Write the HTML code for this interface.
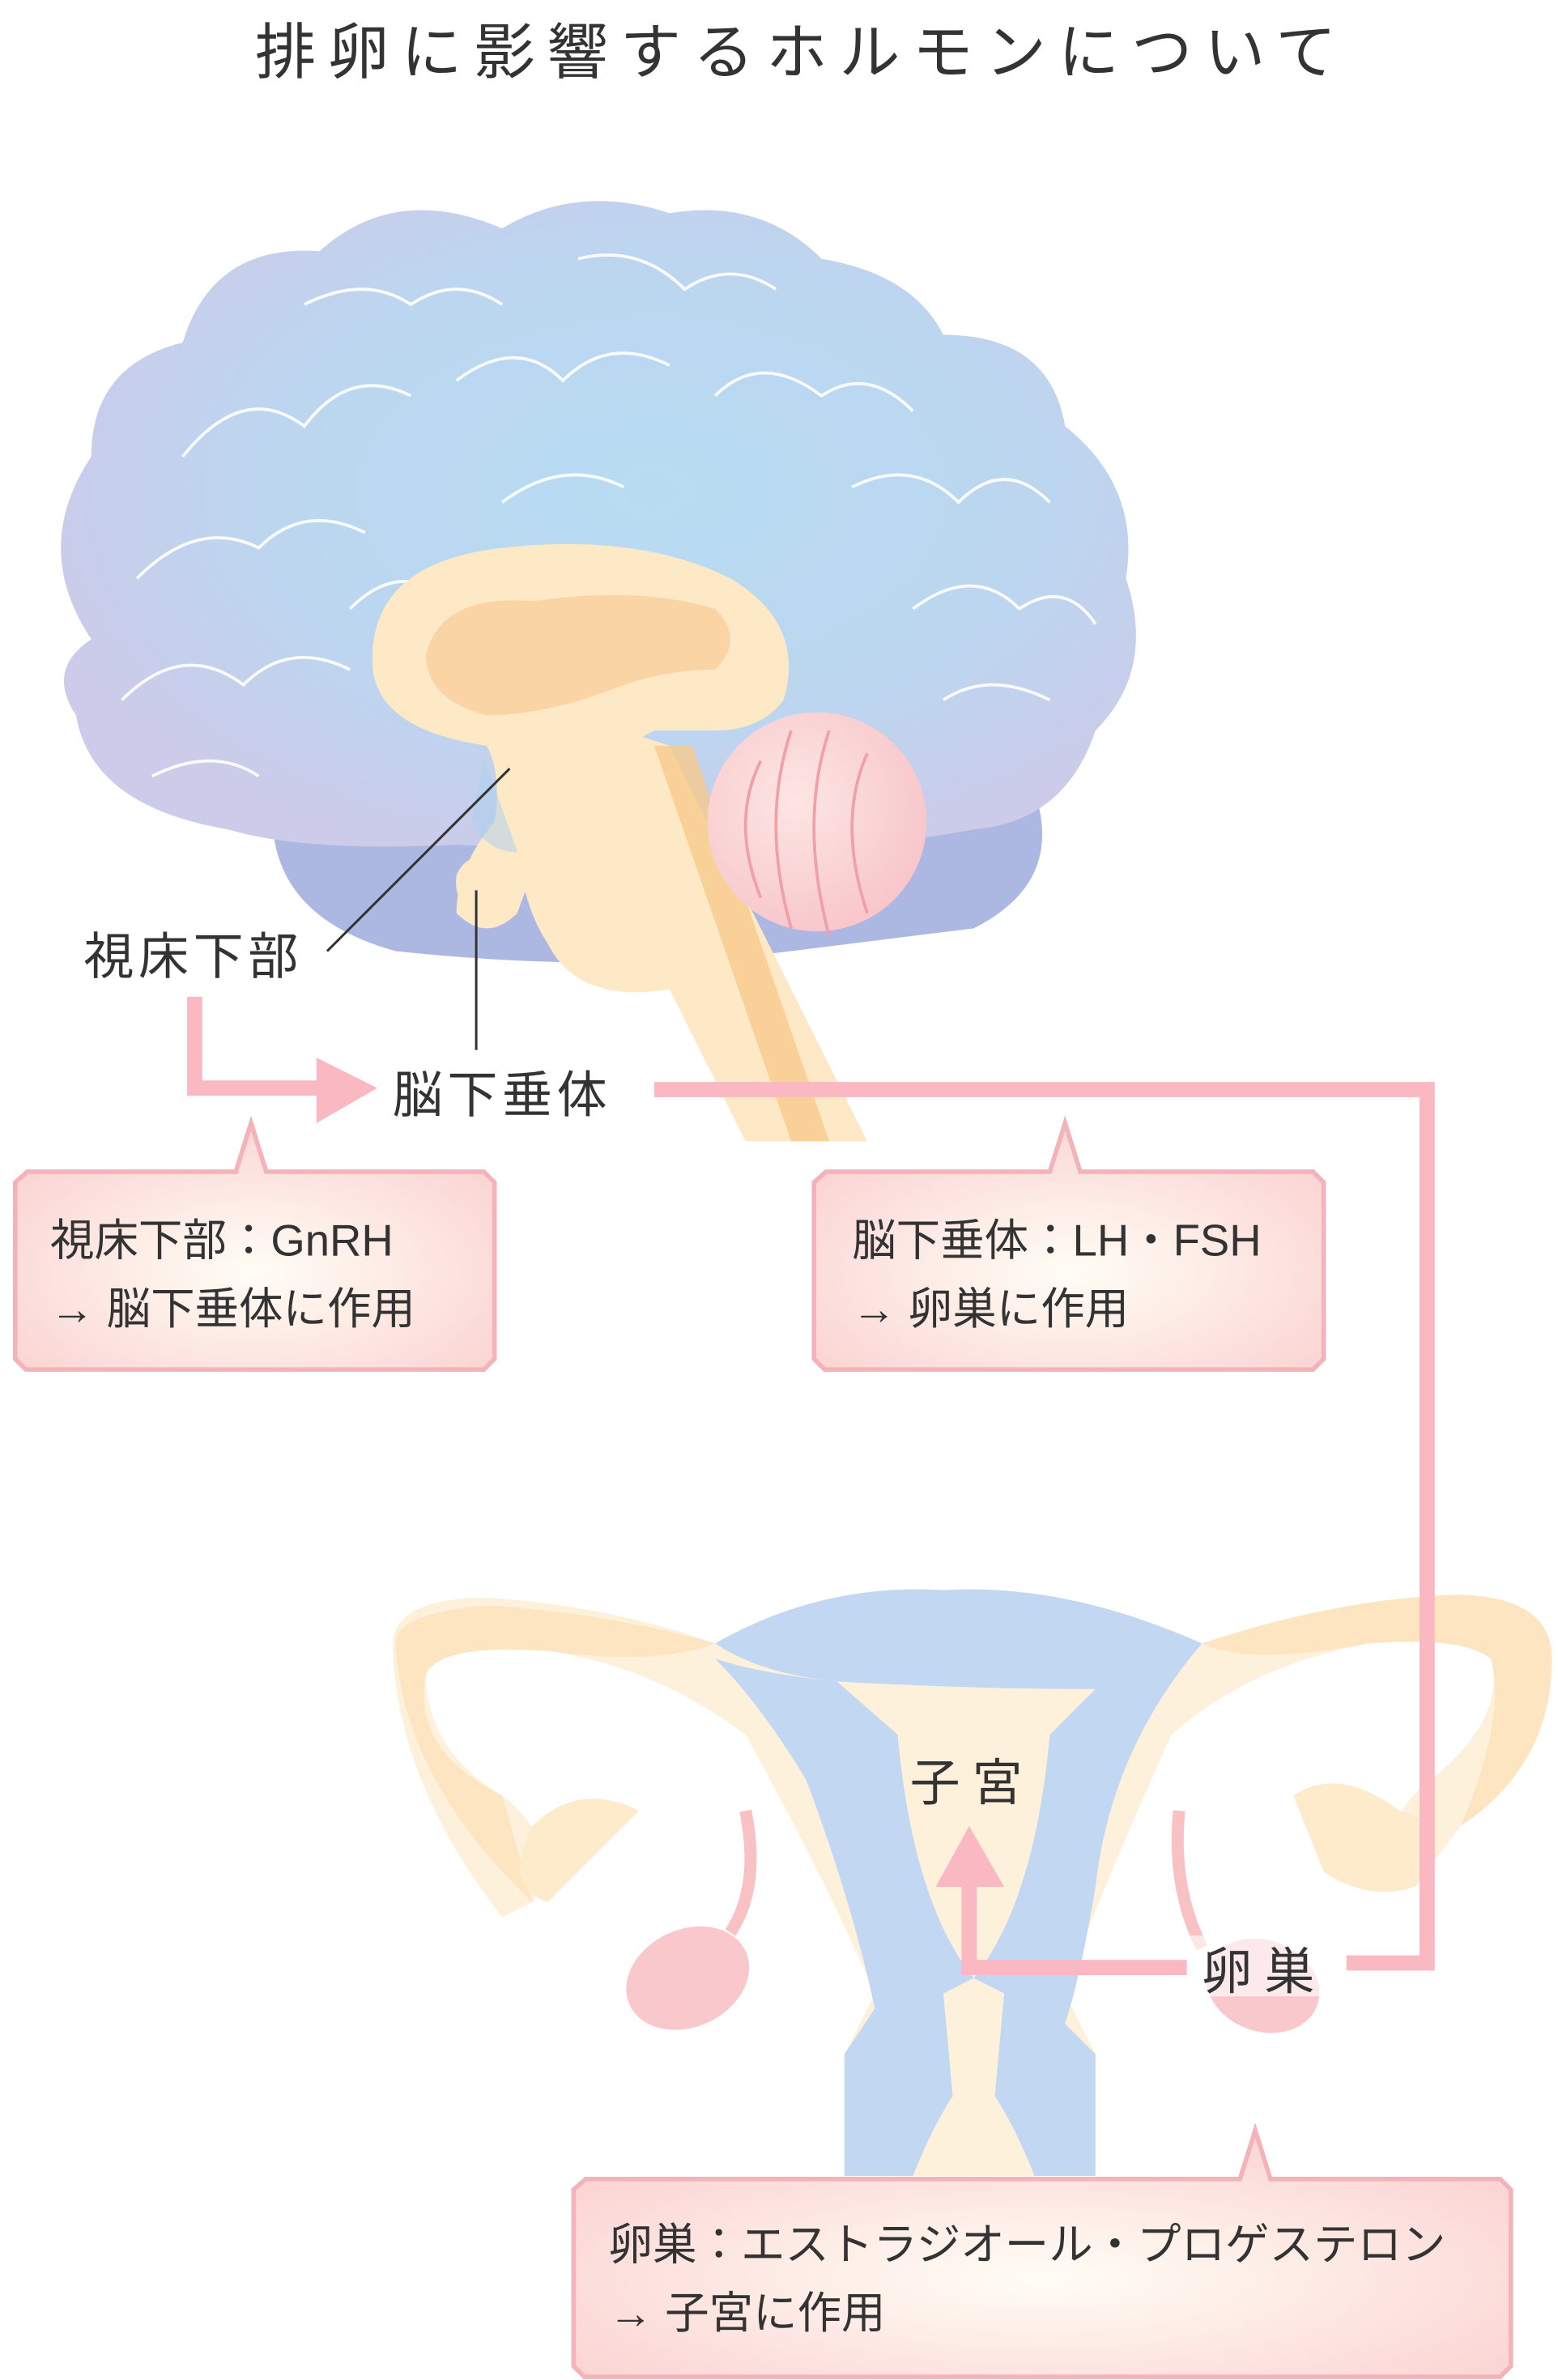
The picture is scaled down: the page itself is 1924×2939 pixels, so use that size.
<!DOCTYPE html>
<html><head><meta charset="utf-8"><style>
html,body{margin:0;padding:0;background:#fff}
svg{display:block}
text{font-family:"Liberation Sans","Noto Sans CJK JP",sans-serif;fill:#333}
</style></head><body>
<svg width="1924" height="2939" viewBox="0 0 1024 1564" xmlns="http://www.w3.org/2000/svg">
<defs>
<radialGradient id="br" cx="0.55" cy="0.45" r="0.6">
<stop offset="0" stop-color="#b7dcf2"/><stop offset="0.6" stop-color="#bcd6f0"/><stop offset="1" stop-color="#cccbe9"/></radialGradient>
<radialGradient id="bx" cx="0.5" cy="0.6" r="0.7">
<stop offset="0" stop-color="#fffdf5"/><stop offset="0.5" stop-color="#fde7e2"/><stop offset="1" stop-color="#fbcfd0"/></radialGradient>
<radialGradient id="cb" cx="0.4" cy="0.4" r="0.7">
<stop offset="0" stop-color="#fde6e4"/><stop offset="1" stop-color="#f7c3c8"/></radialGradient>
</defs>
<text x="527" y="48" font-size="40" text-anchor="middle" letter-spacing="8">排卵に影響するホルモンについて</text>

<!-- brain -->
<path d="M180,520 Q170,600 260,625 Q400,640 520,625 L640,610 Q700,580 680,520 Z" fill="#adb8e2"/>
<path d="M60,420 Q20,360 60,300 Q60,240 120,225 Q140,160 210,165 Q260,120 330,150 Q380,120 440,140 Q500,130 540,170 Q600,180 620,220 Q690,220 700,280 Q750,320 740,380 Q760,440 720,480 Q700,540 640,545 Q560,560 480,555 Q380,560 300,555 Q200,560 150,545 Q60,530 50,470 Q30,440 60,420 Z" fill="url(#br)"/>
<g fill="none" stroke="#fff" stroke-width="2" opacity="0.9">
<path d="M120,300 Q160,250 200,280 Q230,240 270,260"/><path d="M90,380 Q130,340 170,360 Q200,330 240,350"/>
<path d="M80,460 Q120,420 160,450 Q190,420 230,440"/><path d="M200,200 Q240,180 270,200 Q300,180 330,200"/>
<path d="M300,250 Q340,220 370,250 Q400,220 440,240"/><path d="M380,170 Q420,160 450,190 Q480,170 510,190"/>
<path d="M470,260 Q500,230 540,260 Q570,240 600,270"/><path d="M560,320 Q600,300 630,330 Q660,300 690,330"/>
<path d="M600,400 Q640,370 670,400 Q700,380 720,410"/><path d="M230,400 Q260,370 290,390"/><path d="M100,510 Q140,490 170,510"/>
<path d="M620,460 Q650,440 690,460"/><path d="M330,330 Q370,300 410,320"/></g>
<!-- inner -->
<path d="M245,440 Q240,370 330,360 Q420,350 480,380 Q530,410 515,460 Q500,480 470,480 L430,480 Q390,500 370,540 Q350,570 340,600 Q320,620 300,600 Q300,570 325,540 Q330,510 320,490 Q250,480 245,440 Z" fill="#fde9c6"/>
<path d="M280,430 Q290,390 350,395 Q420,385 470,400 Q490,420 470,440 Q440,440 410,450 Q360,470 320,470 Q280,460 280,430 Z" fill="#fad4a4"/>
<path d="M340,540 Q360,490 410,480 L440,490 L570,750 L490,750 L440,650 Q380,660 360,620 Q340,590 340,540 Z" fill="#fde9c6"/>
<path d="M430,490 L455,490 L545,750 L520,750 Z" fill="#f7c98c" opacity="0.8"/>
<path d="M300,575 Q310,555 320,575 Q325,595 310,598 Q298,592 300,575 Z" fill="#fde9c6"/>
<path d="M318,500 Q330,530 340,560 Q320,560 310,540 Z" fill="#a9cfee" opacity="0.5"/>
<circle cx="537" cy="540" r="72" fill="url(#cb)"/>
<g fill="none" stroke="#f0a0a8" stroke-width="2"><path d="M500,500 Q480,540 500,590"/><path d="M520,480 Q500,540 520,610"/><path d="M545,480 Q525,540 545,615"/><path d="M570,495 Q550,540 570,600"/></g>

<line x1="215" y1="625" x2="335" y2="505" stroke="#333" stroke-width="1.6"/>
<line x1="313" y1="585" x2="313" y2="690" stroke="#333" stroke-width="1.6"/>
<text x="55" y="640" font-size="33" letter-spacing="3">視床下部</text>
<text x="258" y="731" font-size="33" letter-spacing="3">脳下垂体</text>

<!-- callouts -->
<g fill="url(#bx)" stroke="#f4b3b9" stroke-width="3">
<path d="M18,770 L155,770 L165,738 L175,770 L318,770 L325,777 L325,893 L318,900 L17,900 L10,893 L10,777 Z"/>
<path d="M543,770 L690,770 L700,738 L710,770 L863,770 L870,777 L870,893 L863,900 L542,900 L535,893 L535,777 Z"/>
<path d="M385,1432 L815,1432 L825,1400 L835,1432 L986,1432 L993,1439 L993,1555 L986,1562 L384,1562 L377,1555 L377,1439 Z"/>
</g>
<text x="33" y="825" font-size="29">視床下部：GnRH</text>
<text x="33" y="870" font-size="29">→ 脳下垂体に作用</text>
<text x="560" y="825" font-size="29">脳下垂体：LH・FSH</text>
<text x="560" y="870" font-size="29">→ 卵巣に作用</text>
<text x="400" y="1485" font-size="29">卵巣：エストラジオール・プロゲステロン</text>
<text x="400" y="1530" font-size="29">→ 子宮に作用</text>

<!-- uterus -->
<g opacity="0.9">
<path d="M258,1080 Q260,1050 320,1050 Q400,1055 470,1080 Q540,1040 620,1045 Q700,1040 790,1080 Q880,1050 960,1048 Q1020,1050 1020,1090 Q1020,1160 960,1200 L930,1240 Q900,1200 940,1170 Q990,1130 980,1090 Q960,1075 900,1080 Q820,1095 770,1140 Q720,1250 700,1310 L720,1350 L720,1430 L555,1430 L555,1350 L575,1310 Q540,1230 490,1140 Q430,1095 360,1085 Q290,1080 280,1100 Q280,1150 330,1180 Q370,1210 350,1250 L330,1260 Q260,1170 258,1080 Z" fill="#fdf0d8"/>
<path d="M470,1080 Q540,1040 620,1045 Q700,1040 790,1080 Q750,1100 720,1110 Q640,1110 550,1105 Q500,1100 470,1080 Z" fill="#bcd3f0"/>
<path d="M470,1090 Q500,1100 550,1105 L590,1140 Q600,1250 640,1300 Q680,1250 690,1140 L720,1110 L790,1080 Q730,1150 720,1240 Q710,1300 700,1330 L720,1350 L720,1430 L680,1430 Q660,1380 640,1360 Q620,1380 600,1430 L555,1430 L555,1350 L575,1320 Q560,1250 530,1170 Q500,1120 470,1090 Z" fill="#bcd3f0"/>
<path d="M620,1310 L640,1300 L660,1310 L650,1420 L630,1420 Z" fill="#fdf0d8"/>
<path d="M260,1080 Q260,1060 320,1055 Q400,1060 470,1080 Q430,1095 360,1085 Q290,1080 280,1100 Q270,1150 330,1180 L350,1250 Q265,1170 260,1080 Z" fill="#fde0b5" opacity="0.8"/>
<path d="M790,1080 Q880,1050 960,1048 Q1020,1050 1020,1090 Q1020,1160 960,1200 Q990,1130 980,1090 Q960,1075 900,1080 Q820,1095 790,1080 Z" fill="#fde0b5" opacity="0.8"/>
<path d="M850,1180 Q880,1160 920,1190 Q960,1200 930,1240 Q900,1250 870,1230 Z" fill="#fde9c6"/>
<path d="M420,1190 Q380,1170 350,1200 Q330,1240 360,1250 Z" fill="#fde9c6"/>
</g>
<path d="M490,1190 Q500,1240 480,1270" stroke="#f8c2c4" stroke-width="8" fill="none"/>
<path d="M775,1190 Q770,1240 790,1280" stroke="#f8c2c4" stroke-width="8" fill="none"/>
<ellipse cx="452" cy="1300" rx="42" ry="32" fill="#f8c8cc" transform="rotate(-25 452 1300)"/>
<ellipse cx="830" cy="1305" rx="38" ry="30" fill="#f8c8cc" transform="rotate(20 830 1305)"/>

<!-- pink connectors on top -->
<g stroke="#f9b8c2" stroke-width="10" fill="none">
<polyline points="128,655 128,715 215,715"/>
<polyline points="430,716 938,716 938,1290 885,1290"/>
<polyline points="780,1293 637,1293 637,1235"/>
</g>
<polygon points="208,695 248,715 208,738" fill="#f9b8c2"/>
<polygon points="615,1240 637,1200 660,1240" fill="#f9b8c2"/>

<rect x="782" y="1272" width="95" height="40" fill="#fff" opacity="0.6"/>
<text x="598" y="1183" font-size="33" letter-spacing="8">子宮</text>
<text x="790" y="1307" font-size="33" letter-spacing="8">卵巣</text>
</svg>
</body></html>
